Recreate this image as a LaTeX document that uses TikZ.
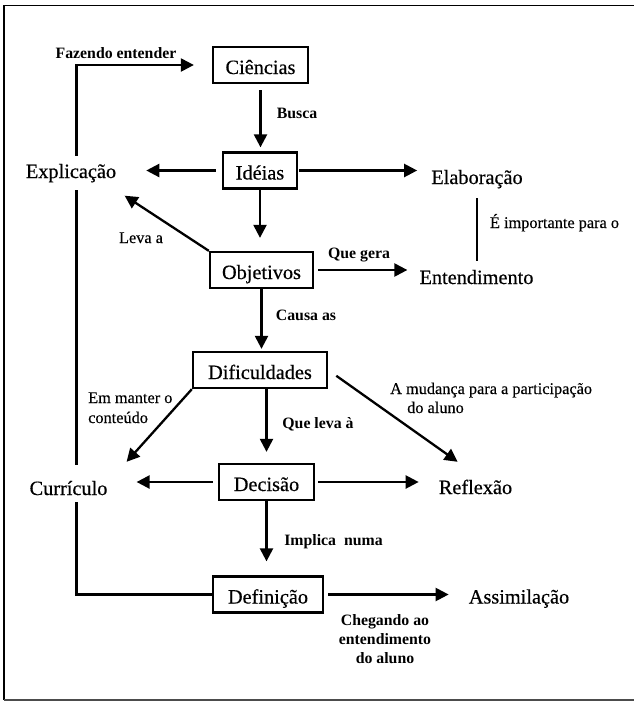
\documentclass[tikz,border=0pt]{standalone}
\usepackage{fontspec}
\setmainfont{Liberation Serif}
\newfontfamily\heavyserif{Liberation Serif}[FakeBold=0.45]
\newfontfamily\midserif{Liberation Serif}[FakeBold=0.3]
\usetikzlibrary{arrows.meta,calc}

\begin{document}
\begin{tikzpicture}[x=1pt,y=-1pt,
  conn/.style={line width=2.3pt,-{Triangle[length=13pt,width=13pt]}},
  link/.style={line width=2.3pt},
  box/.style={draw,line width=2.3pt,font=\heavyserif\fontsize{20.3}{24}\selectfont,
    minimum height=36pt,inner sep=0pt,text height=18pt,text depth=0pt},
  term/.style={font=\heavyserif\fontsize{20.3}{24}\selectfont,inner xsep=0pt,inner ysep=7pt,
    text height=15pt,text depth=5pt},
  lab/.style={font=\midserif\fontsize{16.3}{19}\selectfont,inner sep=0pt,anchor=base},
  blab/.style={font=\bfseries\fontsize{15.8}{19}\selectfont,inner sep=0pt,anchor=base},
]
\useasboundingbox (0,0) rectangle (634,702);

% frame
\draw[line width=1.6pt] (634,5.5) -- (4,5.5) -- (4,700);
\draw[line width=1.3pt,black!70] (4,700) -- (634,700);

% boxed concepts
\node[box,minimum width=95pt]  (cien)   at (260.5,65)  {Ciências};
\node[box,minimum width=74pt]  (ideias) at (260,170.5) {Idéias};
\node[box,minimum width=103pt] (objet)  at (261.5,270) {Objetivos};
\node[box,minimum width=134pt] (dific)  at (260,370)   {Dificuldades};
\node[box,minimum width=95pt]  (decis)  at (266.5,482) {Decisão};
\node[box,minimum width=110pt] (defin)  at (268,594.5) {Definição};

% free concepts
\node[term] (explic) at (71,173)    {Explicação};
\node[term] (elab)   at (477,179)   {Elaboração};
\node[term] (entend) at (476.5,279) {Entendimento};
\node[term] (curric) at (68.5,490)  {Currículo};
\node[term] (reflex) at (475.5,489) {Reflexão};
\node[term] (assim)  at (519,598.5) {Assimilação};

\coordinate (trunk) at (76.5,0);

% connectors
\draw[conn,shorten <=6pt,shorten >=4pt] (cien.south) -- (cien.south |- ideias.north);
\draw[conn,shorten <=6pt,shorten >=30pt] (ideias.west) -- (ideias.west -| explic.east);
\draw[conn,shorten <=1pt,shorten >=14pt] (ideias.east) -- (ideias.east -| elab.west);
\draw[conn,shorten >=13pt] (ideias.south) -- (ideias.south |- objet.north);
\draw[conn,shorten >=10pt] (objet.north west) -- (explic.south east);
\draw[conn,shorten <=4pt,shorten >=12pt] (objet.east) -- (objet.east -| entend.west);
\draw[link,shorten <=2pt,shorten >=1pt] (elab.south) -- (elab.south |- entend.north);
\draw[conn,shorten >=2pt] (objet.south) -- (objet.south |- dific.north);
\draw[conn] (dific.south west) -- ($(curric.north east)+(19,-11)$);
\draw[conn,shorten >=11pt] (dific.south -| decis.north) -- (decis.north);
\draw[conn,shorten <=10pt] (dific.east) -- ($(reflex.north west)+(19,-10)$);
\draw[conn,shorten <=5pt,shorten >=29pt] (decis.west) -- (decis.west -| curric.east);
\draw[conn,shorten <=3pt,shorten >=20pt] (decis.east) -- (decis.east -| reflex.west);
\draw[conn,shorten >=14pt] (decis.south) -- (decis.south |- defin.north);
\draw[conn,shorten <=4pt,shorten >=20pt] (defin.east) -- (defin.east -| assim.west);

% left return line
\draw[link] (defin.west) -- (defin.west -| trunk) -- ($(curric.south -| trunk)+(0,-5)$);
\draw[link] ($(curric.north -| trunk)+(0,-8)$) -- (explic.south -| trunk);
\draw[conn,shorten >=18pt] (explic.north -| trunk) |- (cien.west);

% connector labels
\node[blab] (lfaz)  at (116,58)    {Fazendo entender};
\node[blab] (lbus)  at (297,118)   {Busca};
\node[lab]  (lleva) at (141,243)   {Leva a};
\node[blab] (lque)  at (359,258)   {Que gera};
\node[lab]  (limp)  at (554.5,228) {É importante para o};
\node[blab] (lcau)  at (306,320)   {Causa as};
\node[lab,anchor=base west] (lem1) at (88,403) {Em manter o};
\node[lab,anchor=base west] (lem2) at (88,423) {conteúdo};
\node[blab] (lqlv)  at (318,428)   {Que leva à};
\node[lab,anchor=base west] (lmu1) at (390,394) {A mudança para a participação};
\node[lab,anchor=base west] (lmu2) at (407,413) {do aluno};
\node[blab] (limpl) at (333.5,545) {Implica\ \ numa};
\node[blab] (lch1)  at (385,625)   {Chegando ao};
\node[blab] (lch2)  at (385,644)   {entendimento};
\node[blab] (lch3)  at (385,663)   {do aluno};
\end{tikzpicture}
\end{document}
